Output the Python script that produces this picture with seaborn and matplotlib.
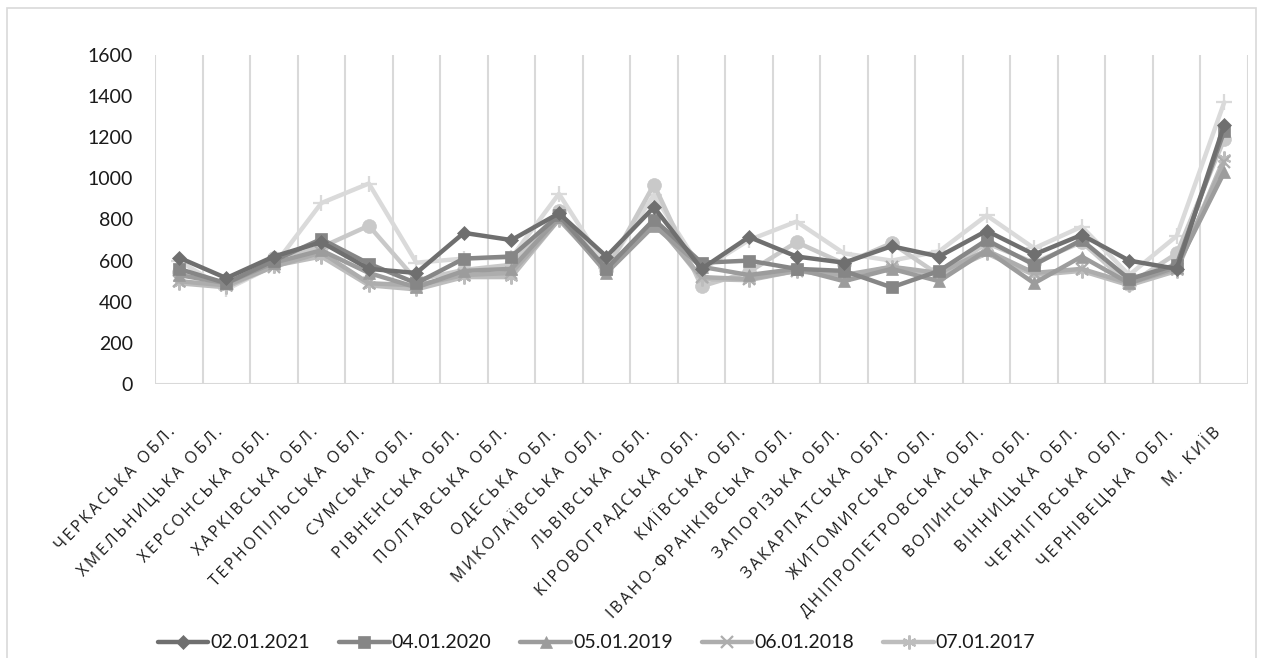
import numpy as np
import pandas as pd
import matplotlib
matplotlib.use("Agg")
import matplotlib.pyplot as plt
from matplotlib.lines import Line2D
from matplotlib.patches import Rectangle
import seaborn as sns

# Regions (x axis categories)
regions = [
    "Черкаська обл.", "Хмельницька обл.", "Херсонська обл.", "Харківська обл.",
    "Тернопільська обл.", "Сумська обл.", "Рівненська обл.", "Полтавська обл.",
    "Одеська обл.", "Миколаївська обл.", "Львівська обл.", "Кіровоградська обл.",
    "Київська обл.", "Івано-Франківська обл.", "Запорізька обл.", "Закарпатська обл.",
    "Житомирська обл.", "Дніпропетровська обл.", "Волинська обл.", "Вінницька обл.",
    "Чернігівська обл.", "Чернівецька обл.", "м. Київ",
]

# Values per survey date
v_2021 = [615, 515, 620, 690, 560, 540, 735, 700, 830, 620, 860, 560, 715, 620, 590, 670, 620, 745, 630, 725, 600, 560, 1260]
v_2020 = [560, 490, 600, 705, 585, 490, 610, 620, 820, 560, 800, 590, 600, 560, 550, 470, 550, 700, 580, 700, 510, 580, 1230]
v_2019 = [530, 490, 590, 650, 540, 470, 550, 560, 810, 540, 770, 570, 530, 560, 500, 560, 500, 650, 490, 620, 490, 570, 1030]
v_2018 = [500, 480, 570, 640, 490, 480, 530, 540, 800, 560, 790, 520, 510, 550, 530, 570, 540, 650, 540, 560, 490, 560, 1080]
v_2017 = [490, 470, 575, 620, 480, 460, 520, 520, 800, 550, 800, 510, 505, 550, 520, 570, 530, 635, 530, 550, 480, 550, 1100]
v_2016 = [545, 490, 615, 665, 770, 505, 555, 580, 840, 555, 970, 475, 545, 690, 585, 685, 530, 685, 590, 690, 485, 635, 1190]
v_2015 = [600, 460, 575, 880, 975, 590, 610, 615, 925, 565, 920, 555, 700, 790, 635, 600, 645, 820, 660, 765, 530, 720, 1370]

dates = ["02.01.2021", "04.01.2020", "05.01.2019", "06.01.2018", "07.01.2017", "08.01.2016", "09.01.2015"]
series = [v_2021, v_2020, v_2019, v_2018, v_2017, v_2016, v_2015]
y_ticks = [0, 200, 400, 600, 800, 1000, 1200, 1400, 1600]

colors = ["#6f6f6f", "#868686", "#9c9c9c", "#adadad", "#bdbdbd", "#c9c9c9", "#dadada"]
markers = ["D", "s", "^", "x", (6, 2, 0), "o", "+"]
msizes = [7.5, 8, 8.5, 9, 10, 10, 11]


def is_line_marker(m):
    return m in ("x", "+") or isinstance(m, tuple)


W, H = 1264, 658
sns.set_theme(style="white")
plt.rcParams["font.family"] = ["Lato", "DejaVu Sans"]

fig = plt.figure(figsize=(W / 100, H / 100), dpi=100)
ax = fig.add_axes([155 / W, 1 - 384 / H, (1248 - 155) / W, (384 - 55) / H])

pos = np.arange(len(regions))
frames = []
for d, vals in zip(dates, series):
    frames.append(pd.DataFrame({"pos": pos, "value": vals, "date": d}))
df = pd.concat(frames, ignore_index=True)

# Draw from the lightest series to the darkest so the 2021 line sits on top
for i in reversed(range(len(dates))):
    sub = df[df["date"] == dates[i]]
    m = markers[i]
    sns.lineplot(
        data=sub, x="pos", y="value", ax=ax, sort=False,
        color=colors[i], linewidth=3.2, marker=m, markersize=msizes[i],
        markeredgecolor=colors[i], markerfacecolor=colors[i],
        markeredgewidth=1.6 if is_line_marker(m) else 0.5,
        legend=False,
    )

ax.set_xlim(-0.5, len(regions) - 0.5)
ax.set_ylim(0, 1600)
ax.set_yticks(y_ticks)
ax.set_yticklabels([str(t) for t in y_ticks], fontsize=14, color="#1a1a1a")
ax.tick_params(axis="y", length=0, pad=16)
ax.set_xlabel("")
ax.set_ylabel("")

# Vertical gridlines at category boundaries
for b in np.arange(-0.5, len(regions) + 0.5, 1.0):
    ax.axvline(b, color="#d9d9d9", linewidth=1.5, zorder=0)
for s in ax.spines.values():
    s.set_visible(False)
ax.axhline(0, color="#d9d9d9", linewidth=1.5, zorder=0.5)


# Letter-spaced, upper-case category labels
def spaced(t):
    return "\u2009".join(list(t.upper()))


ax.set_xticks(pos)
ax.set_xticklabels([spaced(r) for r in regions], rotation=46, ha="right", va="top",
                   fontsize=11.5, color="#1a1a1a", family=["Open Sans", "DejaVu Sans"])
ax.tick_params(axis="x", length=0, pad=29)

# Legend
handles = [
    Line2D([0], [0], color=colors[i], linewidth=3.2, marker=markers[i], markersize=msizes[i],
           markeredgecolor=colors[i], markerfacecolor=colors[i],
           markeredgewidth=1.6 if is_line_marker(markers[i]) else 0.5)
    for i in range(5)
]
leg = fig.legend(handles, dates[:5], loc="center left", bbox_to_anchor=(148 / W, 1 - 643 / H),
                 ncol=5, frameon=False, fontsize=14, handlelength=2.6, handletextpad=0.1,
                 columnspacing=1.5, borderpad=0.0)
for t in leg.get_texts():
    t.set_color("#1a1a1a")

# Chart area border
fig.patches.append(Rectangle((7 / W, -0.02), (1256 - 7) / W, 1.02 - 8 / H,
                             transform=fig.transFigure, fill=False,
                             edgecolor="#d9d9d9", linewidth=1.2))

fig.savefig("out.png", dpi=100, facecolor="white")
